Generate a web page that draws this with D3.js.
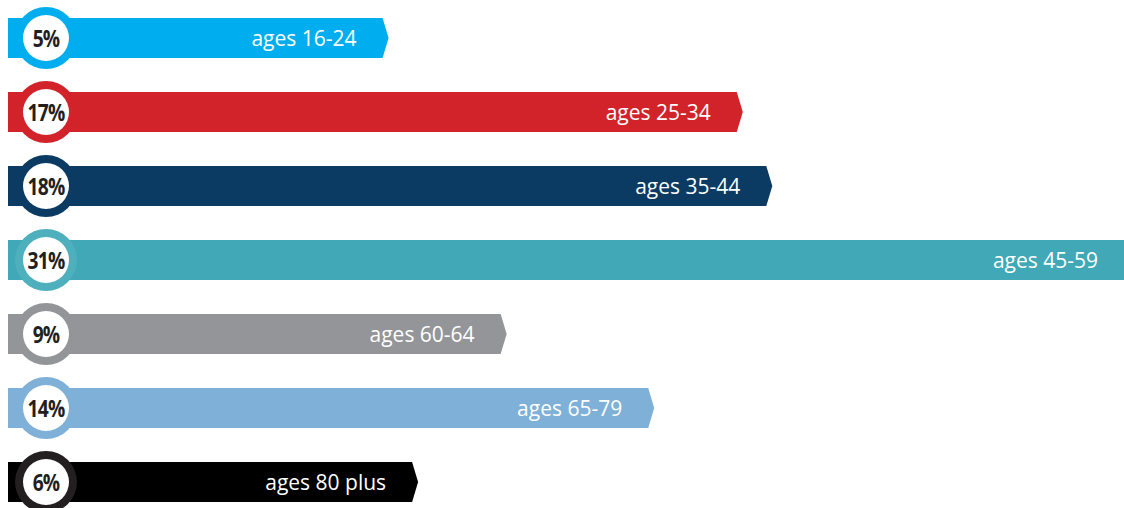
<!DOCTYPE html>
<html lang="en">
  <head>
    <meta charset="utf-8">
    <title>Age groups</title>
    <script type="text/javascript" src="https://cdn.jsdelivr.net/npm/d3@7"></script>
    <style type="text/css">
      body { margin: 0; background: #fff; }
      .pct { font-family: "Open Sans", sans-serif; font-weight: 700; fill: #231f20; }
      .lbl { font-family: "Open Sans", sans-serif; fill: #fff; }
    </style>
  </head>
  <body>
    <script type="text/javascript">

      //Data
      var ages = ["ages 16-24", "ages 25-34", "ages 35-44", "ages 45-59", "ages 60-64", "ages 65-79", "ages 80 plus"];
      var shares = [5, 17, 18, 31, 9, 14, 6];
      var colours = ["#00aeef", "#d2232a", "#0b3a62", "#40a8b6", "#939598", "#7fb0d7", "#000000"];
      var rings = ["#00aeef", "#d2232a", "#0b3a62", "#4fb0bd", "#939598", "#7fb0d7", "#231f20"];

      //Width and height
      var w = 1124;
      var h = 508;
      var left = 8;
      var barH = 40;
      var tip = 6;
      var badgeX = 46;

      var dataset = ages.map(function(a, i) {
        return { age: a, share: shares[i], fill: colours[i], ring: rings[i] };
      });

      //Scales
      var xScale = d3.scaleLinear()
                     .domain([0, 31])
                     .range([235, 1150]);

      var yScale = d3.scalePoint()
                     .domain(ages)
                     .range([38, 482]);

      var svg = d3.select("body")
                  .append("svg")
                  .attr("width", w)
                  .attr("height", h);

      var rows = svg.selectAll("g.row")
                    .data(dataset)
                    .enter()
                    .append("g")
                    .attr("class", "row")
                    .attr("transform", function(d) { return "translate(0," + yScale(d.age) + ")"; });

      //Arrow-ended bars
      rows.append("path")
          .attr("fill", function(d) { return d.fill; })
          .attr("d", function(d) {
            var x1 = xScale(d.share);
            return "M" + left + "," + (-barH / 2) +
                   "L" + x1 + "," + (-barH / 2) +
                   "L" + (x1 + tip) + ",0" +
                   "L" + x1 + "," + (barH / 2) +
                   "L" + left + "," + (barH / 2) + "Z";
          });

      //Badge circles
      rows.append("circle")
          .attr("cx", badgeX)
          .attr("cy", 0)
          .attr("r", 31)
          .attr("fill", function(d) { return d.ring; });

      rows.append("circle")
          .attr("cx", badgeX)
          .attr("cy", 0)
          .attr("r", 23)
          .attr("fill", "#fff");

      //Condensed percentage labels
      rows.append("text")
          .attr("class", "pct")
          .attr("transform", "translate(" + badgeX + ",9) scale(0.8,1)")
          .attr("text-anchor", "middle")
          .attr("font-size", 24)
          .attr("letter-spacing", -1)
          .text(function(d) { return d.share + "%"; });

      //Age labels
      rows.append("text")
          .attr("class", "lbl")
          .attr("x", function(d) { return Math.min(xScale(d.share), w) - 26; })
          .attr("y", 8)
          .attr("text-anchor", "end")
          .attr("font-size", 21)
          .text(function(d) { return d.age; });

    </script>
  </body>
</html>
